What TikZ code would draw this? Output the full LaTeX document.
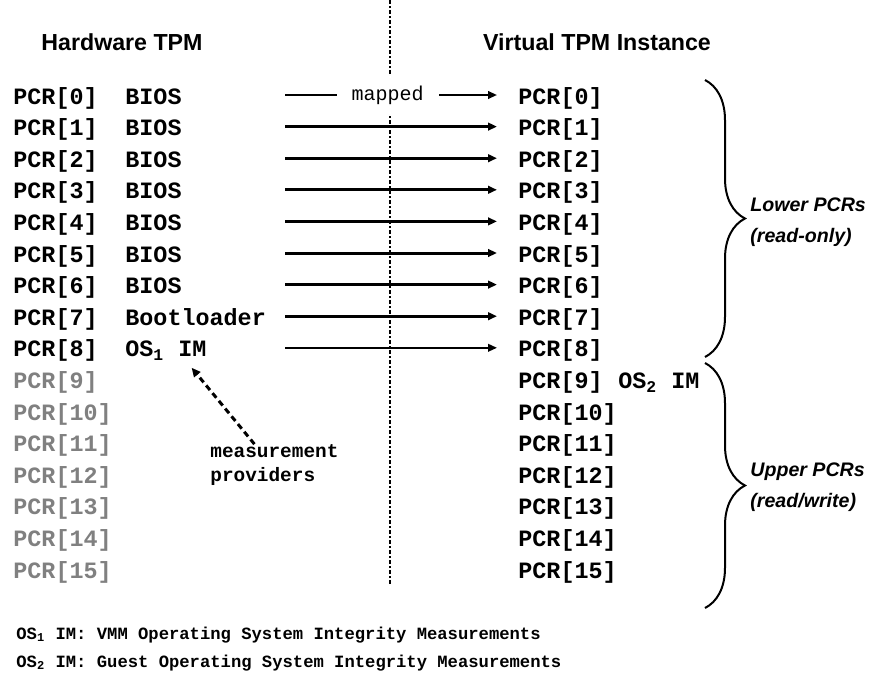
\documentclass[tikz,border=0pt]{standalone}
\usepackage{fontspec}
\setmainfont{Liberation Sans}
\setsansfont{Liberation Sans}
\setmonofont{Liberation Mono}
\usepackage{tikz}
\usetikzlibrary{arrows.meta,decorations.pathreplacing}

\begin{document}
\begin{tikzpicture}[x=0.5pt,y=-0.5pt]
        \tikzstyle{every node}=[inner sep=0pt, anchor=base west, font=\ttfamily\bfseries\fontsize{11.7}{14}\selectfont];
        \tikzstyle{head}=[anchor=center, font=\sffamily\bfseries\fontsize{11.6}{14}\selectfont];
        \tikzstyle{side}=[anchor=west, align=left, font=\sffamily\bfseries\itshape\fontsize{9.8}{15.5}\selectfont];
        \tikzstyle{note}=[font=\ttfamily\bfseries\fontsize{8.6}{10}\selectfont];
        \tikzstyle{map}=[-{Triangle[length=4.5pt,width=3.8pt]}, line width=1pt, shorten >=10.5pt];
        \tikzstyle{mapnode}=[anchor=center, fill=white, inner xsep=7.5pt, minimum height=19pt, font=\ttfamily\fontsize{10}{12}\selectfont];
        \tikzstyle{divide}=[line width=1pt, dash pattern=on 2pt off 1pt on 1pt off 1pt];
        \tikzstyle{brace}=[decorate, decoration={brace, amplitude=20pt}, line width=1pt];
        \tikzstyle{provider}=[-{Triangle[length=4.5pt,width=4pt]}, line width=1.5pt, dash pattern=on 3pt off 2pt, shorten >=4.5pt];
        \useasboundingbox (0,0) rectangle (891,675);
        \node[head] (hwtitle) at (122,42) {Hardware TPM};
        \node[head] (vttitle) at (597,42) {Virtual TPM Instance};
        \coordinate (divtop) at (390,0);
        \coordinate (divbot) at (390,585);
        \draw[divide] (divtop) -- (divbot);
        \foreach \i in {0,...,8}
            \node (hw\i) at (13,{104+31.6*\i}) {PCR[\i]};
        \foreach \i in {9,...,15}
            \node[gray] (hw\i) at (13,{104+31.6*\i}) {PCR[\i]};
        \foreach \i in {0,...,15}
            \node (vt\i) at (518,{104+31.6*\i}) {PCR[\i]};
        \node (os2) at (618,{104+31.6*9}) {OS\textsubscript{2} IM};
        \foreach \i/\s in {0/BIOS,1/BIOS,2/BIOS,3/BIOS,4/BIOS,5/BIOS,6/BIOS,7/Bootloader,8/{OS\textsubscript{1} IM}}
            \node (src\i) at (125,{104+31.6*\i}) {\s};
        \foreach \i in {0,...,8}
            \coordinate (ar\i) at (285,{95+31.6*\i});
        \draw[map] (ar0) -- node[mapnode, pos=0.44] (mapped) {mapped} (ar0 -| vt0.west);
        \foreach \i in {1,...,7}
            \draw[map, line width=1.5pt] (ar\i) -- (ar\i -| vt\i.west);
        \draw[map] (ar8) -- (ar8 -| vt8.west);
        \node[align=left, anchor=west, font=\ttfamily\bfseries\fontsize{9.7}{12}\selectfont] (mp) at (210,465) {measurement\\providers};
        \draw[provider] ([xshift=-10pt]mp.north) -- ([xshift=10pt]src8.south);
        \coordinate (lowtop) at (705,80);
        \coordinate (lowbot) at (705,357);
        \coordinate (uptop) at (705,363);
        \coordinate (upbot) at (705,608);
        \draw[brace] (lowtop) -- (lowbot);
        \draw[brace] (uptop) -- (upbot);
        \node[side] (lower) at (750,222) {Lower PCRs\\(read-only)};
        \node[side] (upper) at (750,487) {Upper PCRs\\(read/write)};
        \node[note] (note1) at (16,639) {OS\textsubscript{1} IM: VMM Operating System Integrity Measurements};
        \node[note] (note2) at (16,667) {OS\textsubscript{2} IM: Guest Operating System Integrity Measurements};
    \end{tikzpicture}
\end{document}
